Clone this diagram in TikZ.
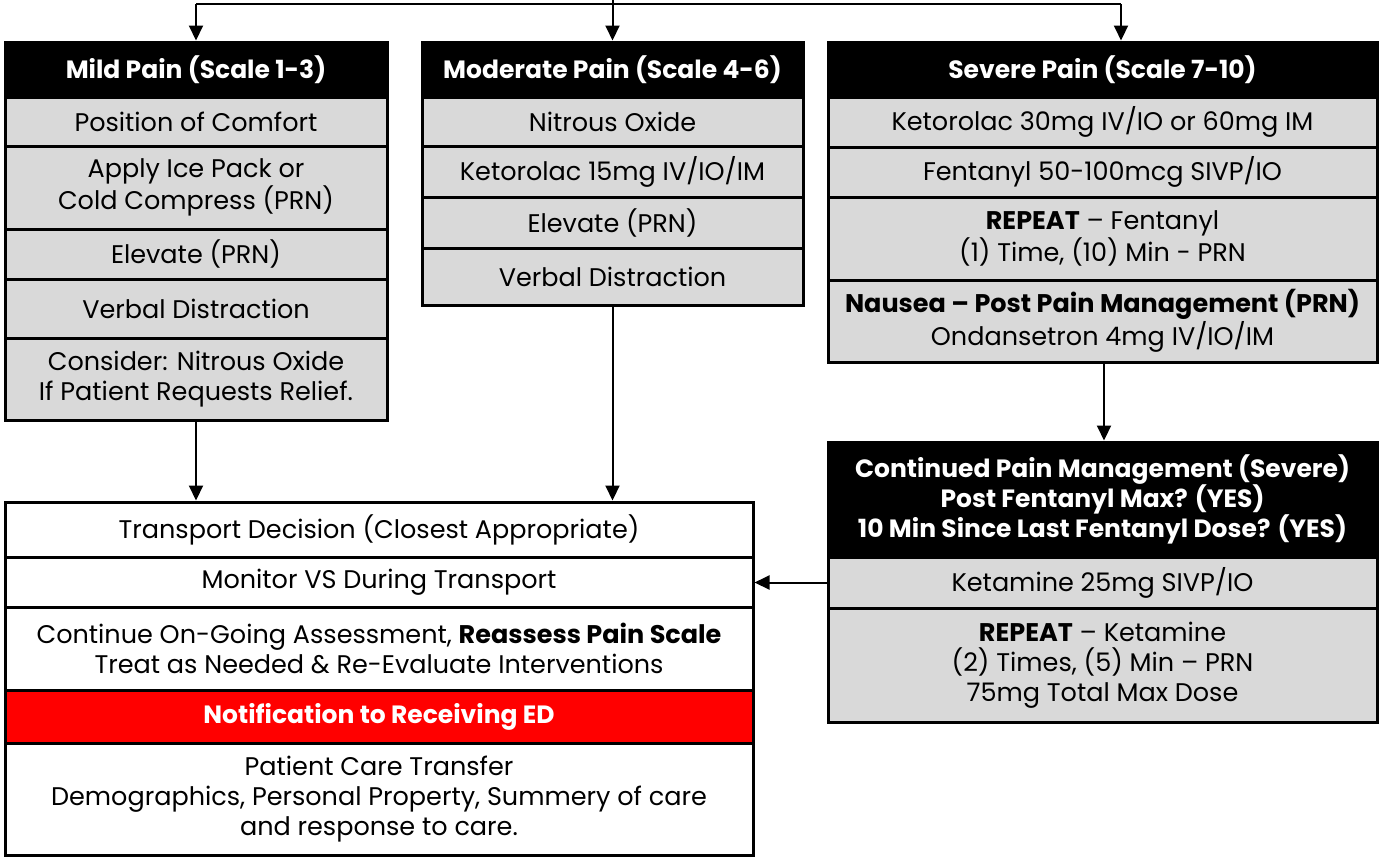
\documentclass[tikz,border=0pt]{standalone}
\usepackage{fontspec}
\setmainfont{Poppins}
\usetikzlibrary{arrows.meta}
\definecolor{cellgray}{HTML}{D9D9D9}
\definecolor{alertred}{HTML}{FF0000}
\tikzset{
  sz/.style 2 args={minimum width=#1*0.5pt, minimum height=#2*0.5pt},
  cell/.style={draw=black, line width=1.5pt, fill=cellgray, inner sep=0pt,
    align=center, text=black, font=\fontsize{12.75}{15}\selectfont},
  head/.style={cell, fill=black, text=white, font=\fontsize{12.5}{15}\selectfont\bfseries},
  plain/.style={cell, fill=white},
  alert/.style={cell, fill=alertred, text=white, font=\fontsize{12.5}{15}\selectfont\bfseries},
  link/.style={line width=1pt, draw=black},
  arr/.style={link, -{Triangle[length=7.5pt,width=7pt]}},
}
\begin{document}
\begin{tikzpicture}[x=0.5pt,y=-0.5pt]
\useasboundingbox (0,0) rectangle (1379,858);

% Mild pain column
\node[head, sz={382}{55}] (mildH) at (196,69.5) {Mild Pain (Scale 1-3)};
\node[cell, sz={382}{49}] (mild1) at (196,121.5) {Position of Comfort};
\node[cell, sz={382}{83}] (mild2) at (196,187.5) {Apply Ice Pack or\\Cold Compress (PRN)};
\node[cell, sz={382}{50}] (mild3) at (196,254) {Elevate (PRN)};
\node[cell, sz={382}{59}] (mild4) at (196,308.5) {Verbal Distraction};
\node[cell, sz={382}{82}] (mild5) at (196,379) {Consider: Nitrous Oxide\\If Patient Requests Relief.};

% Moderate pain column
\node[head, sz={381}{55}] (modH) at (612.5,69.5) {Moderate Pain (Scale 4-6)};
\node[cell, sz={381}{49}] (mod1) at (612.5,121.5) {Nitrous Oxide};
\node[cell, sz={381}{51}] (mod2) at (612.5,171.5) {Ketorolac 15mg IV/IO/IM};
\node[cell, sz={381}{51}] (mod3) at (612.5,222.5) {Elevate (PRN)};
\node[cell, sz={381}{57}] (mod4) at (612.5,276.5) {Verbal Distraction};

% Severe pain column
\node[head, sz={549}{55}] (sevH) at (1102.5,69.5) {Severe Pain (Scale 7-10)};
\node[cell, sz={549}{50}] (sev1) at (1102.5,122) {Ketorolac 30mg IV/IO or 60mg IM};
\node[cell, sz={549}{50}] (sev2) at (1102.5,172) {Fentanyl 50-100mcg SIVP/IO};
\node[cell, sz={549}{83}] (sev3) at (1102.5,238.5) {\textbf{REPEAT} -- Fentanyl\\(1) Time, (10) Min - PRN};
\node[cell, sz={549}{82}] (sev4) at (1102.5,321) {\textbf{Nausea -- Post Pain Management (PRN)}\\Ondansetron 4mg IV/IO/IM};

% Continued severe pain management
\node[head, sz={549}{115}] (contH) at (1102.5,499.5) {Continued Pain Management (Severe)\\Post Fentanyl Max? (YES)\\10 Min Since Last Fentanyl Dose? (YES)};
\node[cell, sz={549}{51}] (cont1) at (1102.5,582.5) {Ketamine 25mg SIVP/IO};
\node[cell, sz={549}{114}] (cont2) at (1102.5,665) {\textbf{REPEAT} -- Ketamine\\(2) Times, (5) Min -- PRN\\75mg Total Max Dose};

% Transport and transfer
\node[plain, sz={748}{55}] (bot1) at (379,529.5) {Transport Decision (Closest Appropriate)};
\node[plain, sz={748}{50}] (bot2) at (379,582) {Monitor VS During Transport};
\node[plain, sz={748}{83}] (bot3) at (379,648.5) {Continue On-Going Assessment, \textbf{Reassess Pain Scale}\\Treat as Needed \& Re-Evaluate Interventions};
\node[alert, sz={748}{53}] (bot4) at (379,716.5) {Notification to Receiving ED};
\node[plain, sz={748}{112}] (bot5) at (379,799) {Patient Care Transfer\\Demographics, Personal Property, Summery of care\\and response to care.};

% Branching connectors from the top
\coordinate (entry) at (612.5,-4);
\coordinate (splitL) at (196,4);
\coordinate (splitR) at (1121,4);
\draw[link] (splitL) -- (splitR);
\draw[arr] (entry) -- (modH.north);
\draw[arr] (splitL) -- (mildH.north);
\draw[arr] (splitR) -- (splitR |- sevH.north);

% Downstream connectors
\draw[arr] (mild5.south) -- (mild5.south |- bot1.north);
\draw[arr] (mod4.south) -- (mod4.south |- bot1.north);
\draw[arr] ([xshift=0.75pt]sev4.south) -- ([xshift=0.75pt]contH.north);
\draw[arr] (cont1.west) -- (cont1.west -| bot2.east);
\end{tikzpicture}
\end{document}
